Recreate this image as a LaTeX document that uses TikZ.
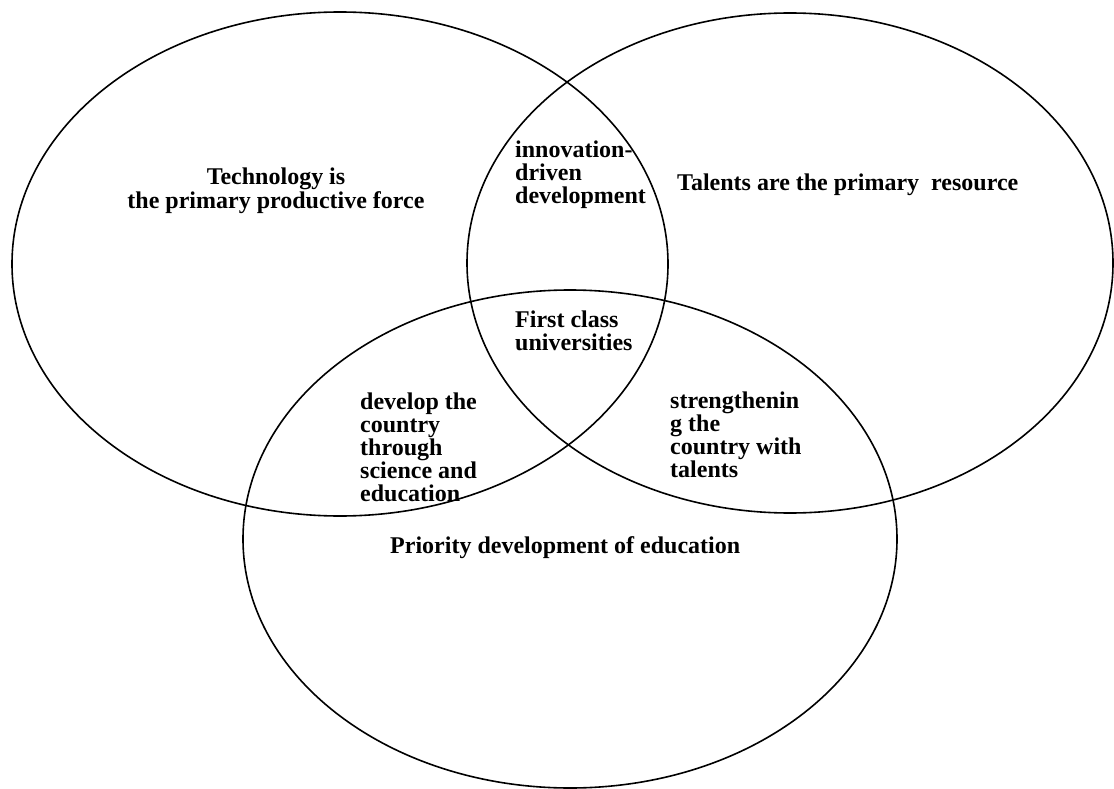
\documentclass[tikz,border=0pt]{standalone}
\usepackage{fontspec}
\setmainfont{Liberation Serif}
\begin{document}
\begin{tikzpicture}[x=1pt,y=-1pt,
  ring/.style={draw=black,line width=1.6pt},
  lbl/.style={anchor=base west,inner sep=0pt,align=left,font=\bfseries\fontsize{24}{23}\selectfont},
  lblc/.style={anchor=base,inner sep=0pt,align=center,font=\bfseries\fontsize{24}{24}\selectfont}]
\useasboundingbox (0,0) rectangle (1114,789);
\draw[ring] (340,264) ellipse [x radius=328pt, y radius=252pt];
\draw[ring] (790,263) ellipse [x radius=323pt, y radius=250pt];
\draw[ring] (570,539) ellipse [x radius=327pt, y radius=249pt];
\node[lblc] (tech) at (276,208) {Technology is\\the primary productive force};
\node[lbl] (innov) at (515,203) {innovation-\\driven\\development};
\node[lbl] (talent) at (677,190) {Talents are the primary\ \ resource};
\node[lbl] (first) at (515,350) {First class\\universities};
\node[lbl] (devel) at (360,501) {develop the\\country\\through\\science and\\education};
\node[lbl] (stren) at (670,477) {strengthenin\\g the\\country with\\talents};
\node[lbl] (prio) at (390,553) {Priority development of education};
\end{tikzpicture}
\end{document}
